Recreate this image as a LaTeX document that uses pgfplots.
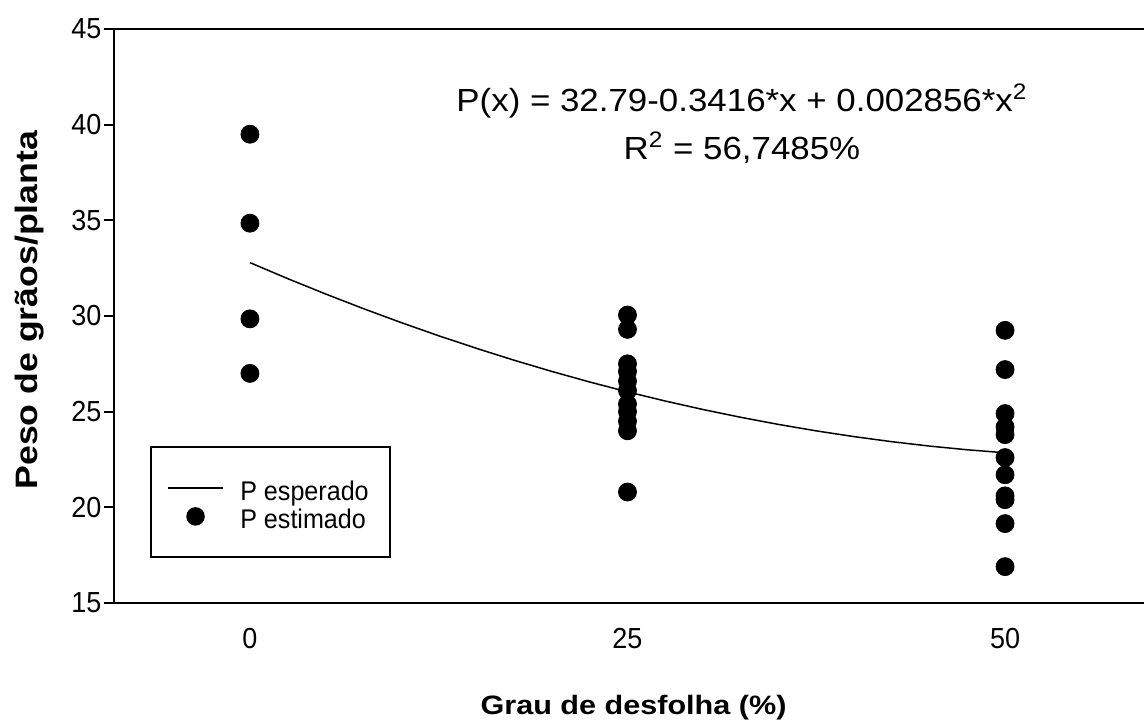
\documentclass[border=0pt]{standalone}
\usepackage{fontspec}
\setmainfont{Liberation Sans}
\newfontfamily\eqfont[FakeStretch=1.09]{Liberation Sans}
\newfontfamily\tickfont[FakeStretch=0.93]{Liberation Sans}
\newfontfamily\legfont[FakeStretch=0.93]{Liberation Sans}
\newfontfamily\labfont[FakeStretch=1.15]{Liberation Sans}
\usepackage{pgfplots}
\pgfplotsset{compat=1.18}

\begin{document}
\begin{tikzpicture}
\begin{axis}[
  scale only axis, width=515pt, height=287pt,
  xmin=-9, xmax=59.2, ymin=15, ymax=45,
  axis lines=left,
  axis line style={-, line width=0.85pt, black},
  xtick={0,25,50}, ytick={15,20,25,30,35,40,45},
  tick align=outside, major tick length=4.75pt,
  tick style={line width=0.85pt, black},
  xtick style={draw=none},
  minor tick num=0,
  /pgf/number format/assume math mode=true,
  tick label style={font=\tickfont\fontsize{14.5}{17}\selectfont},
  xticklabel style={yshift=-4.3pt},
  yticklabel style={xshift=2pt},
  xlabel={Grau de desfolha (\%)},
  ylabel={Peso de grãos/planta},
  xlabel style={font=\labfont\bfseries\fontsize{13.3}{16}\selectfont, at={(axis description cs:0.5044,0)}, anchor=base, yshift=-55.5pt},
  ylabel style={font=\labfont\bfseries\fontsize{15.5}{18}\selectfont, at={(axis description cs:-0.0816,0.51)}, anchor=center},
  legend cell align=left,
  legend style={at={(axis description cs:0.0349,0.0784)}, anchor=south west,
    draw=black, line width=0.85pt, fill=white,
    font=\legfont\fontsize{13.5}{16}\selectfont,
    inner xsep=8.25pt, inner ysep=12.75pt, row sep=-1pt, column sep=6pt,
    nodes={inner xsep=2.25pt, inner ysep=0pt},
    column 2/.style={nodes={text width=70pt}}},
]
\addplot[black, line width=0.75pt, no markers,
  legend image code/.code={\draw[black, line width=0.75pt] (0pt,0pt) -- (27.5pt,0pt);}]
  coordinates {
  (0,32.790) (2.5,31.954) (5,31.153) (7.5,30.389) (10,29.660) (12.5,28.966)
  (15,28.309) (17.5,27.687) (20,27.100) (22.5,26.550) (25,26.035) (27.5,25.556)
  (30,25.112) (32.5,24.705) (35,24.333) (37.5,23.996) (40,23.696) (42.5,23.431)
  (45,23.201) (47.5,23.008) (50,22.850)
  };
\addlegendentry{\raisebox{0pt}[13.75pt][0.25pt]{P esperado}}
\addplot[only marks, mark=*, mark size=4.5pt, black,
  legend image code/.code={\fill[black] (13.75pt,0pt) circle[radius=4.2pt];}]
  coordinates {
  (0,39.5) (0,34.85) (0,29.85) (0,27.0)
  (25,30.05) (25,29.3) (25,27.5) (25,27.1) (25,26.6) (25,26.1) (25,25.4) (25,25.0) (25,24.5) (25,24.0) (25,20.8)
  (50,29.25) (50,27.2) (50,24.9) (50,24.2) (50,23.8) (50,22.6) (50,21.7) (50,20.6) (50,20.4) (50,19.15) (50,16.9)
  };
\addlegendentry{\raisebox{0pt}[13.75pt][0.25pt]{P estimado}}
\draw[line width=0.85pt, black] (rel axis cs:0,1) -- (rel axis cs:1,1);
\node[anchor=base, font=\eqfont\fontsize{16}{19}\selectfont] at (axis description cs:0.6097,0.8554) {P(x) = 32.79-0.3416*x + 0.002856*x\textsuperscript{2}};
\node[anchor=base, font=\eqfont\fontsize{16}{19}\selectfont] at (axis description cs:0.6097,0.7718) {R\textsuperscript{2} = 56,7485\%};
\coordinate (ll) at (rel axis cs:0,0);
\coordinate (ur) at (rel axis cs:1,1);
\end{axis}
\pgfresetboundingbox
\useasboundingbox ([xshift=-57pt,yshift=-59.5pt]ll) rectangle ([yshift=14.5pt]ur);
\end{tikzpicture}
\end{document}
